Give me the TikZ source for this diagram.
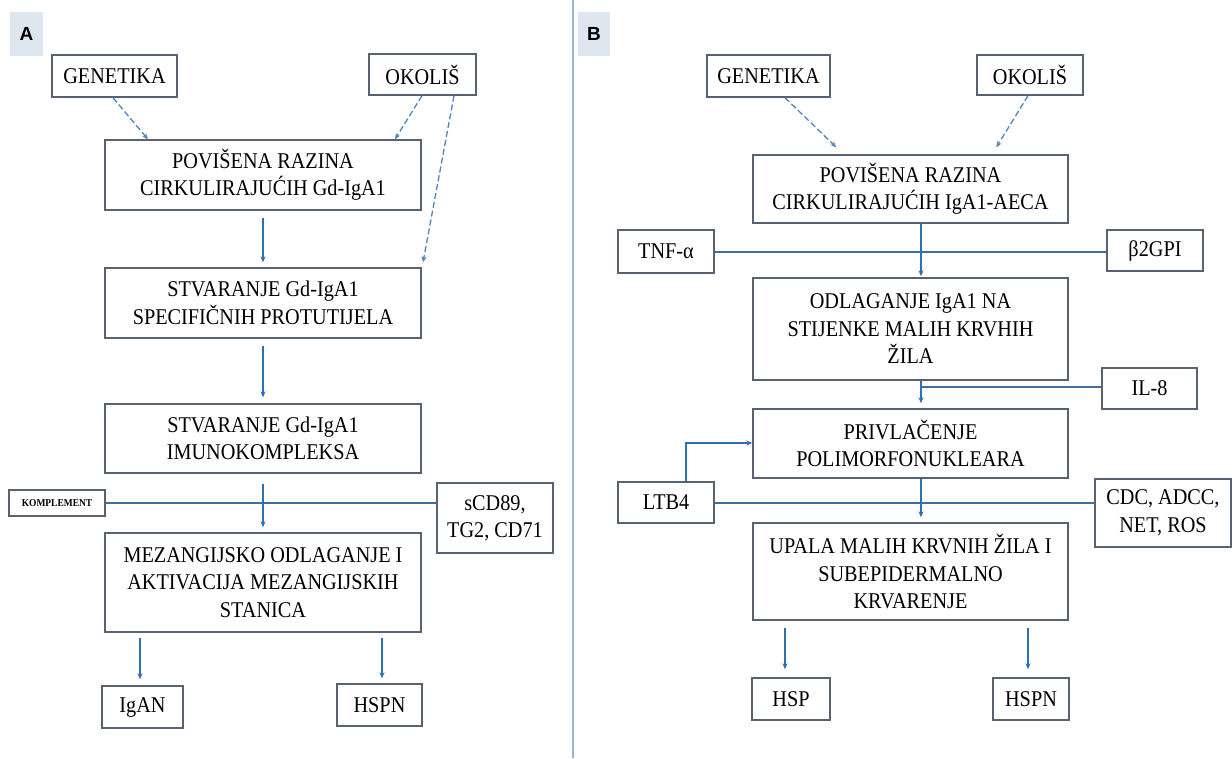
\documentclass[tikz,border=0pt]{standalone}
\usepackage{fontspec}
\setmainfont{Liberation Serif}[FakeStretch=0.9]
\newfontfamily\lblfont{Liberation Sans}
\usetikzlibrary{arrows.meta,calc}
\definecolor{boxc}{RGB}{88,98,112}
\definecolor{arrc}{RGB}{46,112,180}
\definecolor{linc}{RGB}{60,110,160}
\definecolor{divc}{RGB}{150,185,215}
\definecolor{lblbg}{RGB}{222,230,240}
\begin{document}
\begin{tikzpicture}[x=1pt,y=-1pt,
  box/.style={draw=boxc, line width=1.4pt, fill=white, align=center, inner sep=0pt, font=\fontsize{22.5}{27.5}\selectfont},
  arr/.style={draw=arrc, line width=1.8pt, -{Stealth[length=6pt,width=5pt]}},
  darr/.style={draw=arrc!85, line width=1.3pt, dash pattern=on 6pt off 3pt, -{Stealth[length=6pt,width=5pt]}},
  hline/.style={draw=linc, line width=2pt},
  lbl/.style={fill=lblbg, font=\lblfont\bfseries\fontsize{19}{19}\selectfont, inner sep=0pt}]
\useasboundingbox (0,0) rectangle (1232,758);
\fill[white] (0,0) rectangle (1232,758);
% divider
\draw[divc, line width=2.5pt] (573,0) -- (573,758);
% labels
\node[lbl, minimum width=33pt, minimum height=44pt] (labA) at (26.5,34) {A};
\node[lbl, minimum width=32pt, minimum height=44pt] (labB) at (594,34) {B};

% ---------- Panel A ----------
\node[box, minimum width=125pt, minimum height=42pt] (gA) at (114.5,76) {GENETIKA};
\node[box, minimum width=107pt, minimum height=41pt] (oA) at (422.5,74.5) {OKOLIŠ};
\node[box, minimum width=316pt, minimum height=70pt] (p1A) at (263,175) {POVIŠENA RAZINA\\CIRKULIRAJUĆIH Gd-IgA1};
\node[box, minimum width=316pt, minimum height=70pt] (s1A) at (263,303) {STVARANJE Gd-IgA1\\SPECIFIČNIH PROTUTIJELA};
\node[box, minimum width=316pt, minimum height=69pt] (s2A) at (263,438.5) {STVARANJE Gd-IgA1\\IMUNOKOMPLEKSA};
\node[box, minimum width=96pt, minimum height=26pt, font=\bfseries\fontsize{10.5}{12}\selectfont] (kA) at (57,503) {KOMPLEMENT};
\node[box, minimum width=116pt, minimum height=70pt] (cdA) at (495,518) {sCD89,\\TG2, CD71};
\node[box, minimum width=316pt, minimum height=99pt] (mA) at (263,582.5) {MEZANGIJSKO ODLAGANJE I\\AKTIVACIJA MEZANGIJSKIH\\STANICA};
\node[box, minimum width=81pt, minimum height=42pt] (igA) at (142.5,707) {IgAN};
\node[box, minimum width=85pt, minimum height=42pt] (hsA) at (379.5,705) {HSPN};

\draw[darr] ([xshift=-1.5pt]gA.south) -- ([xshift=-115pt]p1A.north);
\draw[darr] ([xshift=-0.5pt]oA.south) -- ([xshift=132pt]p1A.north);
\draw[darr] ([xshift=31.5pt]oA.south) -- ([xshift=160pt,yshift=5pt]s1A.north);
\draw[arr] ([yshift=-7pt]p1A.south) -- ([yshift=5pt]s1A.north);
\draw[arr] ([yshift=-7pt]s1A.south) -- ([yshift=6pt]s2A.north);
\draw[hline] (kA.east) -- (kA.east -| cdA.west);
\draw[arr] ([yshift=-10pt]s2A.south) -- ([yshift=5pt]mA.north);
\draw[arr] ($(mA.south -| igA.north)+(-2.5,5)$) -- ($(igA.north)+(-2.5,-6)$);
\draw[arr] ($(mA.south -| hsA.north)+(2.5,5)$) -- ($(hsA.north)+(2.5,-5)$);

% ---------- Panel B ----------
\node[box, minimum width=123pt, minimum height=42pt] (gB) at (768.5,76) {GENETIKA};
\node[box, minimum width=106pt, minimum height=40pt] (oB) at (1030,75) {OKOLIŠ};
\node[box, minimum width=315pt, minimum height=68pt] (p1B) at (910.5,189) {POVIŠENA RAZINA\\CIRKULIRAJUĆIH IgA1-AECA};
\node[box, minimum width=96pt, minimum height=43pt] (tnf) at (666,251.5) {TNF-α};
\node[box, minimum width=96pt, minimum height=41pt] (b2) at (1155,250.5) {β2GPI};
\node[box, minimum width=315pt, minimum height=102pt] (odB) at (910.5,329) {ODLAGANJE IgA1 NA\\STIJENKE MALIH KRVHIH\\ŽILA};
\node[box, minimum width=95pt, minimum height=41pt] (il8) at (1149.5,388.5) {IL-8};
\node[box, minimum width=315pt, minimum height=69pt] (prB) at (910.5,443.5) {PRIVLAČENJE\\POLIMORFONUKLEARA};
\node[box, minimum width=96pt, minimum height=41pt] (ltb) at (666,502.5) {LTB4};
\node[box, minimum width=136pt, minimum height=68pt] (cdc) at (1163,513) {CDC, ADCC,\\NET, ROS};
\node[box, minimum width=315pt, minimum height=97pt] (upB) at (910.5,571.5) {UPALA MALIH KRVNIH ŽILA I\\SUBEPIDERMALNO\\KRVARENJE};
\node[box, minimum width=78pt, minimum height=42pt] (hsp) at (791,699) {HSP};
\node[box, minimum width=76pt, minimum height=42pt] (hspn) at (1031,699) {HSPN};

\coordinate (spB) at (921,0);
\draw[darr] ([xshift=16.5pt]gB.south) -- ($(p1B.north west)+(84,-7)$);
\draw[darr] ([xshift=-2pt]oB.south) -- ($(p1B.north west)+(244,-7)$);
\draw[hline] (tnf.east) -- (tnf.east -| b2.west);
\draw[arr] (spB |- p1B.south) -- ($(spB |- odB.north)+(0,-1)$);
\draw[hline] ($(spB |- il8.west)+(0,-1.5)$) -- ($(il8.west)+(0,-1.5)$);
\draw[arr] (spB |- odB.south) -- ($(spB |- prB.north)+(0,-5)$);
\draw[hline] (ltb.east) -- (ltb.east -| cdc.west);
\draw[arr] (spB |- prB.south) -- ($(spB |- upB.north)+(0,-5)$);
\draw[arr] ($(ltb.north)+(20,0)$) |- ($(prB.west)+(0,-0.5)$);
\draw[arr] ($(upB.south -| hsp.north)+(-6,7)$) -- ($(hsp.north)+(-6,-8)$);
\draw[arr] ($(upB.south -| hspn.north)+(-3,7)$) -- ($(hspn.north)+(-3,-8)$);
\end{tikzpicture}
\end{document}
